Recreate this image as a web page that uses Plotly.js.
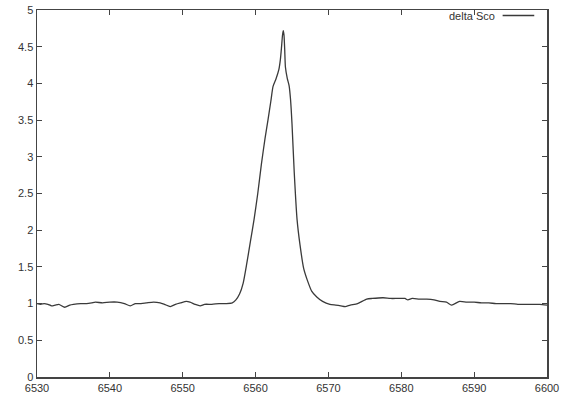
<!DOCTYPE html>
<html><head><meta charset="utf-8">
<script src="https://cdn.plot.ly/plotly-3.0.1.min.js"></script>
<style>html,body{margin:0;padding:0;background:#fff}#c{width:565px;height:396px}</style>
</head><body><div id="c"></div>
<script>
const wavelength = [6530,6530.5,6531,6531.5,6532,6532.5,6533,6533.8,6534.5,6535,6536,6536.8,6537.5,6538,6539,6540,6541,6542,6542.8,6543.5,6544,6545,6546,6546.9,6547.5,6548.3,6549,6549.7,6550.5,6551,6551.7,6552.4,6553,6554,6555,6556,6556.8,6557.3,6557.8,6558.3,6558.8,6559.3,6559.8,6560.3,6560.8,6561.3,6561.7,6562.1,6562.4,6562.8,6563.2,6563.4,6563.55,6563.7,6563.8,6563.9,6564.0,6564.1,6564.35,6564.6,6564.8,6565.0,6565.3,6565.7,6566.1,6566.6,6567.1,6567.7,6568.4,6569.2,6570.2,6571,6571.7,6572.3,6573,6574,6575.25,6576,6577.5,6578.5,6579.5,6580.5,6580.9,6581.5,6582.5,6583.5,6584.5,6585.3,6586.2,6586.9,6588,6589,6590,6591,6592,6593,6594,6595,6596,6597,6598,6599,6600];
const flux = [1.00,0.99,1.00,0.99,0.97,0.98,0.99,0.95,0.98,0.99,1.00,1.00,1.01,1.02,1.01,1.02,1.02,1.00,0.97,1.00,1.00,1.01,1.02,1.01,0.99,0.96,0.99,1.01,1.03,1.02,0.99,0.97,0.99,0.99,1.00,1.00,1.01,1.05,1.13,1.28,1.55,1.85,2.15,2.50,2.90,3.25,3.50,3.76,3.96,4.06,4.19,4.32,4.48,4.66,4.72,4.66,4.46,4.22,4.07,3.97,3.78,3.45,2.80,2.14,1.80,1.48,1.32,1.17,1.09,1.03,0.99,0.98,0.97,0.96,0.98,1.00,1.06,1.07,1.08,1.07,1.07,1.07,1.05,1.07,1.06,1.06,1.05,1.03,1.02,0.98,1.03,1.02,1.02,1.01,1.01,1.00,1.00,1.00,0.99,0.99,0.99,0.99,0.98];
const seriesName = "delta Sco";
const xTicks = [6530,6540,6550,6560,6570,6580,6590,6600];
const yTicks = [0,0.5,1,1.5,2,2.5,3,3.5,4,4.5,5];

const axisCommon = {
  showgrid:false, zeroline:false, showline:true, mirror:'ticks',
  linecolor:'#444', linewidth:1.5, ticks:'inside', ticklen:5, tickwidth:1,
  tickcolor:'#444', tickfont:{family:'Liberation Sans, Arial, sans-serif', size:11, color:'#333'}
};
Plotly.newPlot('c', [{
  x: wavelength, y: flux, type:'scatter', mode:'lines', name: seriesName,
  line:{color:'#3a3a3a', width:1.3, shape:'spline', smoothing:0.6}, showlegend:false
}], {
  width:565, height:396,
  margin:{l:37, r:18, t:10, b:19},
  paper_bgcolor:'#fff', plot_bgcolor:'#fff',
  xaxis: Object.assign({}, axisCommon, {range:[6530,6600], tickvals:xTicks, ticktext:xTicks.map(String)}),
  yaxis: Object.assign({}, axisCommon, {range:[0,5], tickvals:yTicks, ticktext:yTicks.map(String)}),
  annotations:[{xref:'paper', yref:'paper', x:0.902, y:0.985, xanchor:'right', yanchor:'middle',
    text: seriesName, showarrow:false, font:{family:'Liberation Sans, Arial, sans-serif', size:11, color:'#333'}}],
  shapes:[{type:'line', xref:'paper', yref:'paper', x0:0.913, x1:0.975, y0:0.985, y1:0.985, line:{color:'#3a3a3a', width:1.3}}]
}, {displayModeBar:false, staticPlot:true});
</script></body></html>
